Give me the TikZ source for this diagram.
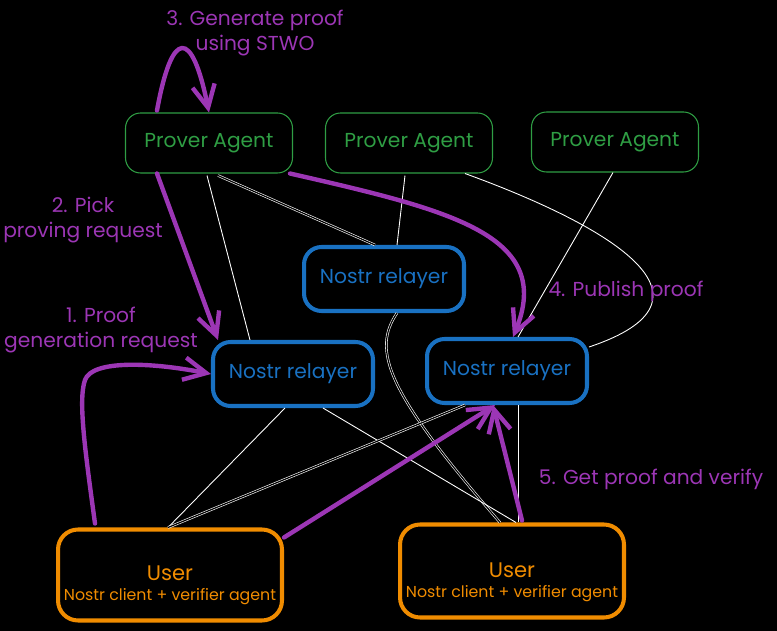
\documentclass[tikz,border=0pt]{standalone}
\usepackage{fontspec}
\setmainfont{Poppins}
\usetikzlibrary{arrows.meta,calc}
\definecolor{pgreen}{HTML}{2F9E44}
\definecolor{pblue}{HTML}{1971C2}
\definecolor{porange}{HTML}{F08C00}
\definecolor{ppurple}{HTML}{9C36B5}
\tikzset{
  prover/.style={draw=pgreen, line width=0.6pt, rounded corners=0.3cm, minimum width=3.34cm, minimum height=1.2cm, text=pgreen, font=\fontsize{11.5}{14}\selectfont},
  relayer/.style={draw=pblue, line width=2.3pt, rounded corners=0.35cm, minimum width=3.2cm, minimum height=1.28cm, text=pblue, font=\fontsize{11.5}{14}\selectfont},
  userbox/.style={draw=porange, line width=2.3pt, rounded corners=0.4cm, minimum width=4.48cm, minimum height=1.82cm},
  usertext/.style={text=porange, align=center, font=\fontsize{12}{11.5}\selectfont},
  note/.style={text=ppurple, align=center, font=\fontsize{11.5}{14}\selectfont},
  flow/.style={draw=ppurple, line width=2.5pt, line cap=round, line join=round, -{Straight Barb[length=4.5mm,width=4.5mm]}},
  wire/.style={draw=white, line width=0.5pt},
  dwire/.style={draw=white, double=black, double distance=0.7pt, line width=0.35pt}
}
\begin{document}
\begin{tikzpicture}[x=0.02cm,y=-0.02cm]
	\fill[black] (0,0) rectangle (777,631);
	\useasboundingbox (0,0) rectangle (777,631);
	\node[prover] (p1) at (209,143) {Prover Agent};
	\node[prover] (p2) at (409,143) {Prover Agent};
	\node[prover] (p3) at (615,142) {Prover Agent};
	\node[relayer] (rm) at (384,279) {Nostr relayer};
	\node[relayer] (rl) at (293,374) {Nostr relayer};
	\node[relayer] (rr) at (507,371) {Nostr relayer};
	\node[userbox] (ul) at (170,575) {};
	\node[userbox, minimum height=1.86cm] (ur) at (512,571) {};
	\node[usertext] (ultxt) at ($(ul)+(0,10)$) {User\\{\fontsize{9}{11.5}\selectfont Nostr client + verifier agent}};
	\node[usertext] (urtxt) at ($(ur)+(0,11)$) {User\\{\fontsize{9}{11.5}\selectfont Nostr client + verifier agent}};
	% relays
	\draw[wire] ($(p1.south)+(-2,2)$) -- ($(rl.north west)+(39,0)$);
	\draw[dwire] ($(p1.south)+(9,2)$) -- ($(rm.north west)+(73,0)$);
	\draw[wire] ($(p2.south)+(-4,2)$) -- ($(rm.north)+(13,0)$);
	\draw[wire] ($(p2.south east)+(-28,0)$) .. controls (615,228) and (730,300) .. ($(rr.north east)+(0,10)$);
	\draw[wire] ($(p3.south)+(-2,0)$) -- ($(rr.north)+(11,0)$);
	\draw[dwire] ($(rm.south)+(13,0)$) .. controls (372,350) and (385,390) .. ($(ur.north west)+(102,0)$);
	\draw[wire] ($(rl.south)+(-8,0)$) -- ($(ul.north)+(-2,0)$);
	\draw[wire] ($(rl.south)+(30,0)$) -- ($(ur.north west)+(118,0)$);
	\draw[dwire] ($(ul.north)+(-2,0)$) -- ($(rr.south west)+(40,0)$);
	\draw[wire] ($(rr.south)+(11,0)$) -- ($(ur.north)+(6,0)$);
	% steps
	\draw[flow] ($(p1.north west)+(32,-2)$) .. controls (172,28) and (192,28) .. (p1.north);
	\draw[flow] ($(p1.south west)+(32,0)$) -- ($(rl.north west)+(7,0)$);
	\draw[flow] ($(p1.south east)+(-3,0)$) .. controls (450,210) and (555,235) .. ($(rr.north)+(6,0)$);
	\draw[flow] ($(ul.north west)+(39,-4)$) .. controls (85,450) and (78,400) .. (85,380) .. controls (92,360) and (150,362) .. (rl.west);
	\draw[flow] ($(ul.north east)+(0,10)$) -- ($(rr.south)+(-12,0)$);
	\draw[flow] ($(ur.north)+(10,-2)$) -- ($(rr.south)+(-14,0)$);
	\node[note] (l3) at (255,33) {3. Generate proof\\using STWO};
	\node[note] (l2) at (83,220) {2. Pick\\proving request};
	\node[note] (l1) at (101,330) {1. Proof\\generation request};
	\node[note] (l4) at (626,291) {4. Publish proof};
	\node[note] (l5) at (651,479) {5. Get proof and verify};
\end{tikzpicture}
\end{document}
